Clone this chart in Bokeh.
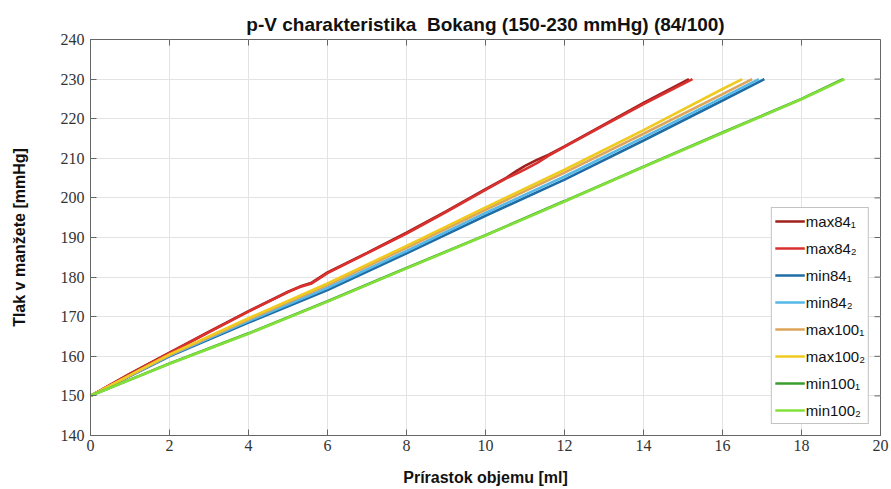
from bokeh.plotting import figure
from bokeh.models import Legend, LegendItem, FixedTicker, Range1d, ColumnDataSource
from bokeh.embed import file_html
from bokeh.resources import INLINE

# ---- data ----
max84_1_x = [0, 1, 2, 3, 4, 5, 5.3, 5.6, 6, 7, 8, 9, 10, 10.5, 10.8, 11.0, 11.3, 11.6, 12, 13, 14, 15.15]
max84_1_y = [150, 155.6, 160.9, 166.2, 171.4, 176.3, 177.6, 178.6, 181.2, 186.1, 191.2, 196.6, 202.2, 204.9, 206.9, 208.1, 209.6, 210.9, 213.0, 218.5, 224.0, 230]
max84_2_x = [0, 1, 2, 3, 4, 5, 5.3, 5.6, 6, 7, 8, 9, 10, 10.5, 10.8, 11.0, 11.3, 11.6, 12, 13, 14, 15.24]
max84_2_y = [150, 155.5, 160.8, 166.1, 171.3, 176.2, 177.5, 178.4, 181.0, 186.0, 191.0, 196.4, 202.0, 204.8, 206.2, 207.2, 208.8, 210.7, 212.9, 218.3, 223.7, 230]
min84_1_x = [0, 2, 4, 6, 8, 10, 12, 14, 16, 17.06]
min84_1_y = [150, 160.0, 168.5, 176.7, 186.0, 195.5, 204.6, 214.5, 224.6, 230]
min84_2_x = [0, 2, 4, 6, 8, 10, 12, 14, 16, 16.92]
min84_2_y = [150, 160.2, 168.9, 177.3, 186.6, 196.2, 205.4, 215.3, 225.3, 230]
max100_1_x = [0, 2, 4, 6, 8, 10, 12, 14, 16, 16.75]
max100_1_y = [150, 160.3, 169.3, 178.0, 187.4, 197.0, 206.4, 216.2, 226.2, 230]
max100_2_x = [0, 2, 4, 6, 8, 10, 12, 14, 16, 16.5]
max100_2_y = [150, 160.5, 169.6, 178.4, 187.9, 197.6, 207.1, 217.1, 227.5, 230]
min100_1_x = [0, 2, 4, 6, 8, 10, 12, 14, 16, 18, 19.05]
min100_1_y = [150, 158.2, 165.8, 173.9, 182.3, 190.6, 199.2, 207.9, 216.5, 225.0, 230]
min100_2_x = [0, 2, 4, 6, 8, 10, 12, 14, 16, 18, 19.09]
min100_2_y = [150, 158.1, 165.7, 173.8, 182.2, 190.5, 199.1, 207.8, 216.4, 224.9, 230]

series_names = ["max84\u2081", "max84\u2082", "min84\u2081", "min84\u2082",
                "max100\u2081", "max100\u2082", "min100\u2081", "min100\u2082"]
series_x = [max84_1_x, max84_2_x, min84_1_x, min84_2_x, max100_1_x, max100_2_x, min100_1_x, min100_2_x]
series_y = [max84_1_y, max84_2_y, min84_1_y, min84_2_y, max100_1_y, max100_2_y, min100_1_y, min100_2_y]
series_colors = ["#A0201C", "#D93030", "#1F6DA6", "#55B8E6", "#DDA55A", "#EFCB22", "#3A9E2E", "#82E03A"]

x_ticks = [0, 2, 4, 6, 8, 10, 12, 14, 16, 18, 20]
y_ticks = [140, 150, 160, 170, 180, 190, 200, 210, 220, 230, 240]

X_MIN, X_MAX, Y_MIN, Y_MAX = 0, 20, 140, 240

p = figure(width=891, height=489, output_backend="svg", toolbar_location=None,
           x_range=Range1d(X_MIN, X_MAX), y_range=Range1d(Y_MIN, Y_MAX),
           min_border_left=90, min_border_right=11, min_border_top=39, min_border_bottom=54)

p.title.text = "p-V charakteristika\u00a0 Bokang (150-230 mmHg) (84/100)"
p.title.align = "center"
p.title.text_font = "Liberation Sans"
p.title.text_font_size = "19px"
p.title.text_font_style = "bold"
p.title.text_color = "#111111"
p.title.offset = 0

renderers = []
for name, xs, ys, c in zip(series_names, series_x, series_y, series_colors):
    src = ColumnDataSource(dict(x=xs, y=ys))
    r = p.line("x", "y", source=src, line_color=c, line_width=2.6)
    renderers.append((name, r))

# MATLAB-style box ticks on the top and right edges (inward)
tick_len_y = 6 / 3.96   # ~6 px in data units
tick_len_x = 6 / 39.5
p.segment(x0=x_ticks, y0=[Y_MAX] * len(x_ticks), x1=x_ticks, y1=[Y_MAX - tick_len_y] * len(x_ticks),
          line_color="#666666", line_width=1)
p.segment(x0=[X_MAX] * len(y_ticks), y0=y_ticks, x1=[X_MAX - tick_len_x] * len(y_ticks), y1=y_ticks,
          line_color="#666666", line_width=1)

legend = Legend(items=[LegendItem(label=n, renderers=[r]) for n, r in renderers],
                location="bottom_right")
legend.label_text_font = "Liberation Sans"
legend.label_text_font_size = "15px"
legend.label_text_color = "#111111"
legend.glyph_width = 30
legend.glyph_height = 20
legend.spacing = 7
legend.padding = 3
legend.margin = 11
legend.label_standoff = 1
legend.border_line_color = "#888888"
legend.border_line_width = 1
legend.background_fill_alpha = 1
p.add_layout(legend)

for ax in p.xaxis + p.yaxis:
    ax.major_label_text_font = "Liberation Serif"
    ax.major_label_text_font_size = "16px"
    ax.major_label_text_color = "#333333"
    ax.axis_line_color = "#666666"
    ax.major_tick_line_color = "#666666"
    ax.major_tick_in = 6
    ax.major_tick_out = 0
    ax.minor_tick_line_color = None
    ax.axis_label_text_font = "Liberation Sans"
    ax.axis_label_text_font_style = "bold"
    ax.axis_label_text_font_size = "16px"
    ax.axis_label_text_color = "#111111"

p.xaxis.ticker = FixedTicker(ticks=x_ticks)
p.yaxis.ticker = FixedTicker(ticks=y_ticks)
p.xaxis.axis_label = "Prírastok objemu [ml]"
p.yaxis.axis_label = "Tlak v manžete [mmHg]"
p.xaxis.major_label_standoff = 4
p.yaxis.major_label_standoff = 6
p.xaxis.axis_label_standoff = 15
p.yaxis.axis_label_standoff = 30

p.xgrid.ticker = FixedTicker(ticks=x_ticks)
p.ygrid.ticker = FixedTicker(ticks=y_ticks)
p.grid.grid_line_color = "#E3E3E3"
p.outline_line_color = "#666666"
p.background_fill_color = "white"
p.border_fill_color = "white"

open("out.html", "w").write(file_html(p, INLINE))
